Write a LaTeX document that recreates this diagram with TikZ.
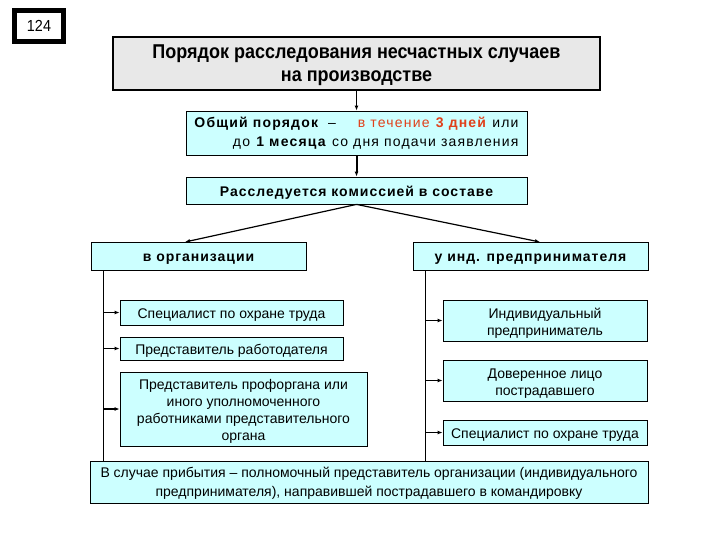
\documentclass[tikz,border=0pt]{standalone}
\usepackage{fontspec}
\setmainfont{Liberation Sans}
\newfontfamily\titlefont[FakeStretch=0.9]{Liberation Sans}
\usetikzlibrary{arrows.meta}
\definecolor{cyanfill}{HTML}{CCFFFF}
\definecolor{grayfill}{HTML}{E8E8E8}
\definecolor{redtxt}{HTML}{E0401A}
\newcommand{\tx}[2][3pt]{\raisebox{-#1}[\height][\depth]{\begin{tabular}{@{}c@{}}#2\end{tabular}}}
\newcommand{\bsp}{\addfontfeatures{LetterSpace=7}\bfseries}
\begin{document}
\begin{tikzpicture}[x=1pt,y=-1pt,
  box/.style={draw=black,line width=0.8pt,fill=cyanfill,inner sep=0pt,font=\fontsize{14}{17}\selectfont},
  arr/.style={-{Latex[length=5pt,width=4pt]},line width=1.2pt},
  thin/.style={line width=0.8pt}]
\useasboundingbox (0,0) rectangle (720,540);
\fill[white] (0,0) rectangle (720,540);
% number
\node[draw=black,line width=5pt,fill=white,minimum width=49pt,minimum height=31pt,inner sep=0pt,font=\titlefont\fontsize{16}{18}\selectfont] (num) at (39,26) {\tx[2pt]{124}};
% title
\node[draw=black,line width=1.6pt,fill=grayfill,minimum width=487pt,minimum height=53pt,inner sep=0pt,font=\titlefont\fontsize{20}{23}\selectfont\bfseries] (title) at (356.5,63.5) {\tx[1.5pt]{Порядок расследования несчастных случаев\\на производстве}};
% box 2
\node[box,minimum width=341pt,minimum height=44pt,font=\fontsize{14}{19}\selectfont\addfontfeatures{LetterSpace=8.5}] (b2) at (356.5,133) {\raisebox{0pt}[\height][\depth]{\begin{tabular}{@{}r@{}}\textbf{Общий порядок}\hspace{9pt}–\hspace{22pt}\textcolor{redtxt}{в течение \textbf{3 дней}} или\\до \textbf{1 месяца} со дня подачи заявления\end{tabular}}};
% box 3
\node[box,minimum width=341pt,minimum height=27pt,font=\fontsize{14}{17}\selectfont\bsp] (b3) at (356.5,190.5) {\tx{Расследуется комиссией в составе}};
% level 4
\node[box,minimum width=215pt,minimum height=28pt,font=\fontsize{14}{17}\selectfont\bsp] (org) at (198.5,256) {\tx[2.5pt]{в организации}};
\node[box,minimum width=235pt,minimum height=28pt,font=\fontsize{14}{17}\selectfont\bsp] (ip) at (530.5,256) {\tx[2.5pt]{у инд. предпринимателя}};
% left column
\node[box,minimum width=223pt,minimum height=25pt] (l1) at (231.5,312.5) {\tx{Специалист по охране труда}};
\node[box,minimum width=223pt,minimum height=23pt] (l2) at (231.5,348.5) {\tx[2.5pt]{Представитель работодателя}};
\node[box,minimum width=247pt,minimum height=74pt] (l3) at (243.5,409) {\tx{Представитель профоргана или\\иного уполномоченного\\работниками представительного\\органа}};
% right column
\node[box,minimum width=204pt,minimum height=41pt] (r1) at (545,320.5) {\tx{Индивидуальный\\предприниматель}};
\node[box,minimum width=204pt,minimum height=41pt] (r2) at (545,380.5) {\tx{Доверенное лицо\\пострадавшего}};
\node[box,minimum width=204pt,minimum height=25pt] (r3) at (545,432.5) {\tx{Специалист по охране труда}};
% bottom
\node[box,minimum width=558pt,minimum height=42pt,font=\fontsize{14}{19}\selectfont] (bot) at (369,482) {\tx[1.5pt]{В случае прибытия – полномочный представитель организации (индивидуального\\предпринимателя), направившей пострадавшего в командировку}};
% coordinates
\coordinate (lt) at (103,270);
\coordinate (lb) at (103,461);
\coordinate (rt) at (425,270);
\coordinate (rb) at (425,461);
\coordinate (orgtip) at (185,242);
\coordinate (iptip) at (540,242);
% connectors
\draw[arr] (title.south) -- (b2.north);
\draw[arr,line width=2pt] (b2.south) -- (b3.north);
\draw[arr] (b3.south) -- (orgtip);
\draw[arr] (b3.south) -- (iptip);
\draw[thin] (lt) -- (lb);
\draw[thin] (rt) -- (rb);
\draw[arr] (l1.west -| lt) -- (l1.west);
\draw[arr] (l2.west -| lt) -- (l2.west);
\draw[arr] (l3.west -| lt) -- (l3.west);
\draw[arr] (r1.west -| rt) -- (r1.west);
\draw[arr] (r2.west -| rt) -- (r2.west);
\draw[arr] (r3.west -| rt) -- (r3.west);
\end{tikzpicture}
\end{document}
